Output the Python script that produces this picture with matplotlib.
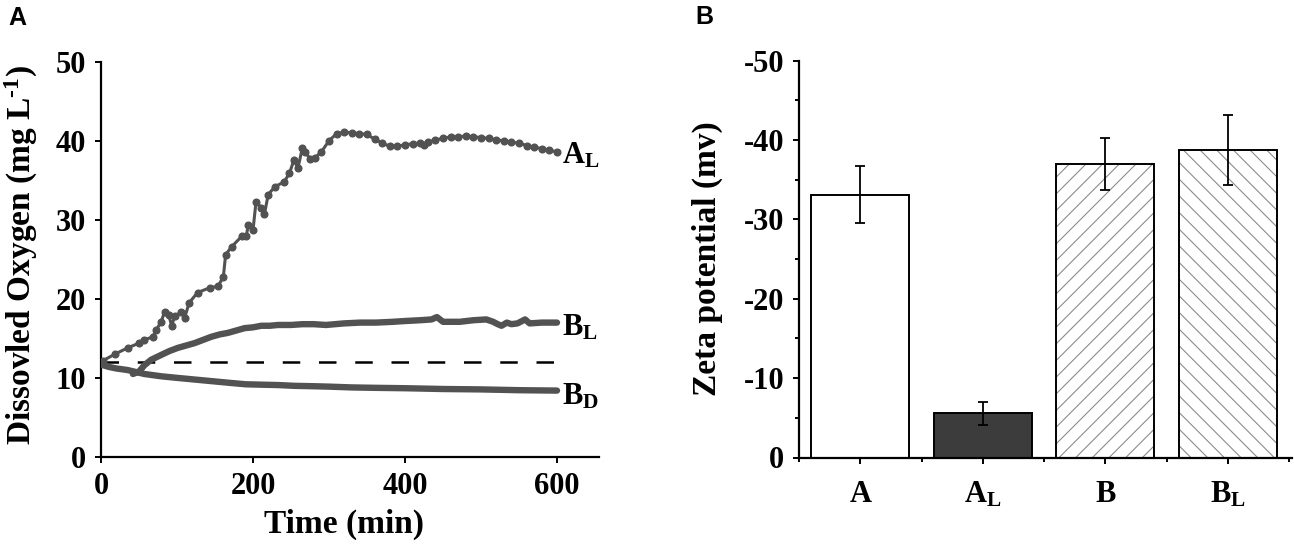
import matplotlib
matplotlib.use("Agg")
import matplotlib.pyplot as plt
from matplotlib.ticker import MultipleLocator, FixedLocator

plt.rcParams['font.family'] = ['Liberation Serif', 'DejaVu Serif']
plt.rcParams['font.weight'] = 'bold'
plt.rcParams['axes.unicode_minus'] = False
plt.rcParams['mathtext.fontset'] = 'custom'
plt.rcParams['mathtext.rm'] = 'Liberation Serif:bold'
plt.rcParams['mathtext.it'] = 'Liberation Serif:bold'
plt.rcParams['mathtext.bf'] = 'Liberation Serif:bold'
plt.rcParams['hatch.linewidth'] = 0.8

# ---------------- Panel A data ----------------
t_AL = [0, 2, 18, 35, 50, 57, 68, 73, 79, 84, 89, 93, 97, 105, 110, 116, 127, 143, 154,
        161, 164, 172, 185, 191, 194, 200, 204, 211, 215, 220, 229, 241, 248, 254, 259,
        265, 269, 275, 281, 290, 300, 310, 320, 330, 340, 350, 360, 370, 380, 390, 400,
        410, 420, 425, 430, 440, 450, 460, 470, 480, 490, 500, 510, 520, 530, 540, 550,
        560, 570, 580, 590, 600]
do_AL = [12.0, 12.15, 13.0, 13.8, 14.4, 14.8, 15.2, 16.1, 17.1, 18.4, 18.0, 16.6, 17.8,
         18.3, 17.6, 19.5, 20.8, 21.4, 21.6, 22.8, 25.6, 26.6, 27.9, 27.9, 29.4, 28.7,
         32.3, 31.5, 30.7, 33.2, 34.2, 34.8, 35.9, 37.6, 36.5, 39.1, 38.6, 37.7, 37.8,
         38.6, 40.0, 40.9, 41.1, 41.0, 40.9, 40.8, 40.2, 39.7, 39.3, 39.3, 39.5, 39.6,
         39.7, 39.5, 39.8, 40.1, 40.3, 40.5, 40.5, 40.6, 40.5, 40.4, 40.3, 40.1, 40.0,
         39.8, 39.7, 39.4, 39.2, 39.0, 38.8, 38.6]

t_BL = [42, 50, 57, 66, 79, 90, 101, 112, 123, 134, 145, 156, 167, 178, 189,
        200, 211, 222, 233, 250, 265, 280, 296, 320, 341, 362, 384, 400, 420, 435, 442,
        450, 472, 490, 507, 516, 522, 527, 534, 540, 548, 558, 564, 580, 600]
do_BL = [10.5, 10.8, 11.6, 12.3, 12.9, 13.4, 13.8, 14.1, 14.4, 14.8,
         15.2, 15.5, 15.7, 16.0, 16.3, 16.4, 16.6, 16.6, 16.7, 16.7, 16.8, 16.8, 16.7,
         16.9, 17.0, 17.0, 17.1, 17.2, 17.3, 17.4, 17.7, 17.1, 17.1, 17.3, 17.4, 17.1,
         16.8, 16.6, 17.0, 16.8, 16.9, 17.4, 16.9, 17.0, 17.0]

t_BD = [0, 10, 20, 35, 57, 80, 101, 123, 145, 167, 190, 210, 233, 255, 280, 300, 330,
        360, 400, 450, 500, 550, 600]
do_BD = [11.7, 11.4, 11.2, 11.0, 10.5, 10.2, 10.0, 9.8, 9.6, 9.4, 9.2, 9.15, 9.1, 9.0,
         8.95, 8.9, 8.8, 8.75, 8.7, 8.6, 8.55, 8.45, 8.4]

baseline_do = 12.0
series_labels = ['A$_\\mathregular{L}$', 'B$_\\mathregular{L}$', 'B$_\\mathregular{D}$']
label_y = [37.1, 15.4, 6.6]
label_x = 606

# ---------------- Panel B data ----------------
samples = ['A', 'A$_\\mathregular{L}$', 'B', 'B$_\\mathregular{L}$']
zeta = [-33.1, -5.6, -37.0, -38.7]
zeta_err = [3.6, 1.45, 3.3, 4.4]

line_col = '#525252'

fig = plt.figure(figsize=(12.94, 5.49), dpi=100)

# ---------------- Panel A ----------------
axA = fig.add_axes([101 / 1294, 1 - 457 / 549, 497.8 / 1294, (457 - 61.7) / 549])
axA.plot(t_AL, do_AL, color=line_col, lw=2.2, marker='o', ms=4.8, mec=line_col,
         mfc=line_col, solid_capstyle='round', solid_joinstyle='round', zorder=3)
axA.plot(t_BL, do_BL, color=line_col, lw=4.6, solid_capstyle='round',
         solid_joinstyle='round', zorder=3)
axA.plot(t_BD, do_BD, color=line_col, lw=4.6, solid_capstyle='round',
         solid_joinstyle='round', zorder=3)
axA.plot([0, 600], [baseline_do, baseline_do], color='black', lw=1.8,
         linestyle=(0, (7, 7.5)), zorder=2)
for lab, ly in zip(series_labels, label_y):
    axA.text(label_x, ly, lab, fontsize=22, fontweight='bold', ha='left', va='baseline')

axA.set_xlim(0, 655)
axA.set_ylim(0, 50)
axA.xaxis.set_major_locator(FixedLocator([0, 200, 400, 600]))
axA.yaxis.set_major_locator(MultipleLocator(10))
axA.spines['top'].set_visible(False)
axA.spines['right'].set_visible(False)
for s in ['left', 'bottom']:
    axA.spines[s].set_linewidth(1.6)
axA.tick_params(axis='both', which='major', direction='out', length=4.5, width=1.4,
                labelsize=22, pad=6)
axA.set_xlabel('Time (min)', fontsize=24, fontweight='bold')
axA.set_ylabel('Dissovled Oxygen (mg L$^{\\mathregular{\u2010}\\mathregular{1}}$)',
               fontsize=24, fontweight='bold')
axA.xaxis.set_label_coords(0.488, -0.132)
axA.yaxis.set_label_coords(-0.123, 0.51)

# ---------------- Panel B ----------------
axB = fig.add_axes([799 / 1294, 1 - 457.5 / 549, 492.7 / 1294, (457.5 - 60.7) / 549])
x = list(range(len(samples)))
face = ['white', '#3c3c3c', 'white', 'white']
hatches = [None, None, '//', '\\\\']
axB.bar(x, zeta, width=0.8, color=face, edgecolor='#8c8c8c', hatch=hatches,
        linewidth=0, zorder=2)
axB.bar(x, zeta, width=0.8, fill=False, edgecolor='black', linewidth=1.4, zorder=3)
axB.errorbar(x, zeta, yerr=zeta_err, fmt='none', ecolor='black', elinewidth=1.3,
             capsize=3.3, capthick=1.3, zorder=4)

axB.set_xlim(-0.5, 3.52)
axB.set_ylim(0, -50)
axB.set_xticks(x)
axB.set_xticklabels(samples)
axB.xaxis.set_minor_locator(FixedLocator([-0.5, 0.5, 1.5, 2.5, 3.5]))
axB.yaxis.set_major_locator(MultipleLocator(10))
axB.yaxis.set_minor_locator(MultipleLocator(5))
axB.spines['top'].set_visible(False)
axB.spines['right'].set_visible(False)
for s in ['left', 'bottom']:
    axB.spines[s].set_linewidth(1.6)
axB.tick_params(axis='both', which='major', direction='out', length=4.5, width=1.4,
                labelsize=22, pad=6)
axB.tick_params(axis='x', which='major', pad=12)
axB.tick_params(axis='both', which='minor', direction='out', length=3, width=1.4)
axB.set_ylabel('Zeta potential (mv)', fontsize=24, fontweight='bold')
axB.yaxis.set_label_coords(-0.155, 0.5)

# Panel letters
fig.text(8 / 1294, 1 - 25 / 549, 'A', fontsize=18, fontweight='bold',
         family='Liberation Sans', va='baseline', ha='left')
fig.text(695 / 1294, 1 - 24.5 / 549, 'B', fontsize=18, fontweight='bold',
         family='Liberation Sans', va='baseline', ha='left')

fig.savefig('out.png', dpi=100)
